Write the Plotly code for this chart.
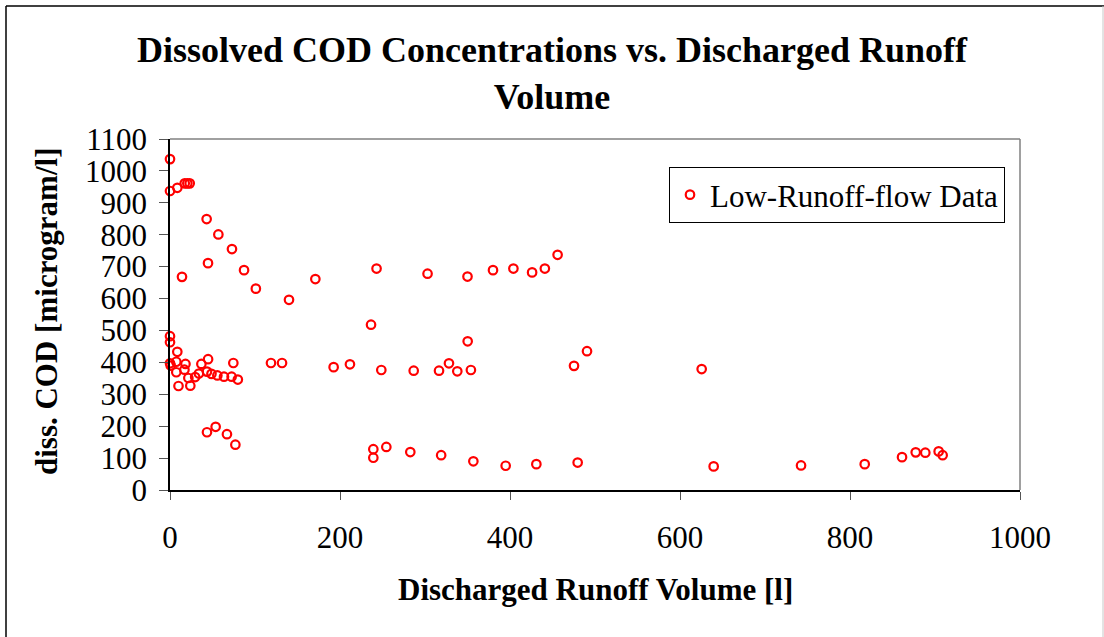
import plotly.graph_objects as go

# Discharged runoff volume [l]
volume = [
    0, 0, 8.6, 17.3, 20.4, 23.2, 43.1, 56.9, 72.9, 44.7, 87.1, 14.1, 101, 140, 171,
    243, 303, 350, 380, 404, 426, 441, 456,
    0, 0, 8.6, 0, 0.8, 7.4, 18.2, 17.0, 7.4, 10.0, 23.9, 21.6, 29.6, 34, 36.9, 44.8,
    43.5, 48.8, 55.7, 63.5, 72.5, 79.8, 74.5, 118.8, 131.8, 192.5, 211.7, 236.5,
    248.6, 286.7, 316.5, 328.2, 338, 354, 350.2, 475.3, 490.6, 625.5,
    43.5, 53.7, 67, 76.9, 239.2, 239.2, 254.5, 282.7, 319, 356.9, 394.9, 431, 479.6,
    639.6, 742.4, 817.3, 861.2, 877.3, 888.6, 904.3, 909,
]
# Dissolved COD [microgram/l]
cod = [
    1037, 937, 947, 961, 961, 961, 849, 801, 755, 711, 689, 668, 631, 596, 661,
    694, 678, 669, 689, 694, 682, 694, 737,
    482, 463, 433, 397, 390, 402, 395, 377, 369, 326, 327, 351, 354, 365, 395, 410,
    371, 364, 359, 355, 355, 346, 398, 398, 398, 385, 394, 518,
    376, 374, 374, 397, 372, 376, 466, 389, 435, 379,
    181, 198, 175, 142, 128, 101, 135, 119, 109, 90, 76, 81, 86,
    74, 77, 81, 103, 118, 117, 121, 109,
]

title_text = "Dissolved COD Concentrations vs. Discharged Runoff<br>Volume"
x_title = "Discharged Runoff Volume [l]"
y_title = "diss. COD [microgram/l]"
series_name = "Low-Runoff-flow Data"
x_ticks = [0, 200, 400, 600, 800, 1000]
y_ticks = [0, 100, 200, 300, 400, 500, 600, 700, 800, 900, 1000, 1100]

W, H = 1104, 637
L, R, T, B = 170, 1020, 139, 490
pw, ph = R - L, B - T

def px(x):
    return (x - L) / pw

def py(y):
    return (B - y) / ph

FONT = "Liberation Serif"

fig = go.Figure()
fig.add_trace(go.Scatter(
    x=volume, y=cod, mode="markers", name=series_name, cliponaxis=False,
    marker=dict(symbol="circle-open", size=8.5, color="#ff0000",
                line=dict(width=2.2, color="#ff0000")),
))

fig.update_layout(
    width=W, height=H,
    margin=dict(l=L, r=W - R, t=T, b=H - B, pad=0),
    paper_bgcolor="white", plot_bgcolor="white",
    font=dict(family=FONT, color="black"),
    title=dict(text=f"<b>{title_text}</b>", font=dict(family=FONT, size=36, color="black"),
               x=0.5, xref="container", xanchor="center",
               y=1 - 62 / H, yref="container", yanchor="middle"),
    showlegend=True,
    legend=dict(x=px(669), y=py(167), xanchor="left", yanchor="top",
                bordercolor="black", borderwidth=1, bgcolor="white",
                font=dict(family=FONT, size=31, color="black")),
    xaxis=dict(range=[0, 1000], tickvals=x_ticks, ticktext=[str(v) for v in x_ticks],
               showgrid=False, zeroline=False, showline=True, linecolor="black", linewidth=1.5,
               ticks="outside", ticklen=8, tickcolor="#555", tickwidth=1,
               ticklabelstandoff=11,
               tickfont=dict(family=FONT, size=31, color="black")),
    yaxis=dict(range=[0, 1100], tickvals=y_ticks, ticktext=[str(v) for v in y_ticks],
               showgrid=False, zeroline=False, showline=True, linecolor="black", linewidth=1.5,
               ticks="outside", ticklen=9, tickcolor="#555", tickwidth=1,
               ticklabelstandoff=6,
               tickfont=dict(family=FONT, size=31, color="black")),
    annotations=[
        dict(text=f"<b>{x_title}</b>", x=px(595), y=py(589), xref="paper", yref="paper",
             xanchor="center", yanchor="middle", showarrow=False,
             font=dict(family=FONT, size=31, color="black")),
        dict(text=f"<b>{y_title}</b>", x=px(46), y=py(312), xref="paper", yref="paper",
             xanchor="center", yanchor="middle", showarrow=False, textangle=-90,
             font=dict(family=FONT, size=31, color="black")),
    ],
    shapes=[
        # grey top and right plot frame
        dict(type="line", xref="paper", yref="paper", x0=0, x1=1, y0=1, y1=1,
             line=dict(color="#808080", width=1.5)),
        dict(type="line", xref="paper", yref="paper", x0=1, x1=1, y0=0, y1=1,
             line=dict(color="#808080", width=1.5)),
        # outer chart border
        dict(type="line", xref="paper", yref="paper", x0=px(6), x1=px(6), y0=py(6), y1=py(640),
             line=dict(color="black", width=1.5)),
        dict(type="line", xref="paper", yref="paper", x0=px(6), x1=px(1104), y0=py(6), y1=py(6),
             line=dict(color="black", width=1.5)),
        dict(type="line", xref="paper", yref="paper", x0=px(1103), x1=px(1103), y0=py(6), y1=py(640),
             line=dict(color="#c8c8c8", width=1)),
    ],
)

fig.write_html("out.html", config={"displayModeBar": False},
               post_script="document.body.style.margin='0';")
